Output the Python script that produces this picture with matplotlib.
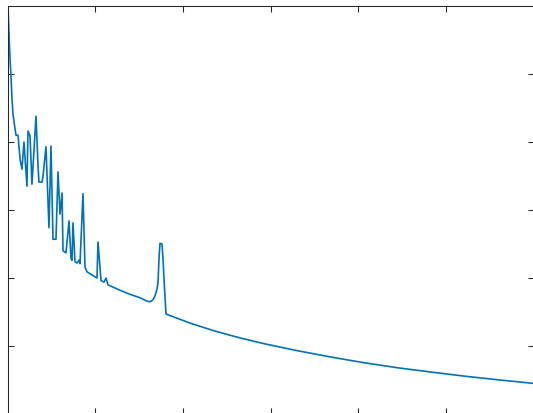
import matplotlib
matplotlib.use("Agg")
import matplotlib.pyplot as plt

x_vals = [0.006, 0.017, 0.029, 0.040, 0.051, 0.063, 0.086, 0.097, 0.120, 0.143,
          0.165, 0.188, 0.222, 0.234, 0.257, 0.279, 0.325, 0.348, 0.359, 0.394,
          0.405, 0.439, 0.473, 0.496, 0.519, 0.553, 0.576, 0.599, 0.622, 0.633,
          0.667, 0.702, 0.724, 0.736, 0.747, 0.770, 0.793, 0.816, 0.827, 0.861,
          0.884, 0.907, 1.021, 1.032, 1.067, 1.101, 1.124, 1.146, 1.283, 1.397,
          1.511, 1.591, 1.626, 1.660, 1.683, 1.706, 1.717, 1.728, 1.739, 1.762,
          1.774, 1.785, 1.808, 2.082, 2.367, 2.652, 2.937, 3.291, 3.679, 4.067,
          4.454, 4.842, 5.230, 5.618, 5.994]
y_vals = [6.00, 5.59, 5.22, 4.96, 4.63, 4.41, 4.19, 4.10, 4.10, 3.75,
          3.60, 4.00, 3.35, 4.16, 4.09, 3.38, 4.38, 3.65, 3.41, 3.41,
          3.50, 3.93, 2.74, 3.94, 2.57, 2.57, 3.56, 2.94, 3.25, 2.40,
          2.37, 2.84, 2.29, 2.26, 2.81, 2.24, 2.22, 2.26, 2.21, 3.24,
          2.16, 2.09, 2.00, 2.53, 1.96, 1.94, 2.00, 1.90, 1.82, 1.76,
          1.71, 1.66, 1.65, 1.68, 1.74, 1.84, 1.94, 2.28, 2.51, 2.50,
          2.28, 1.99, 1.47, 1.337, 1.219, 1.119, 1.031, 0.935, 0.840, 0.754,
          0.679, 0.615, 0.554, 0.500, 0.451]
x_ticks = [1, 2, 3, 4, 5]
y_ticks = [1, 2, 3, 4, 5]

fig = plt.figure(figsize=(5.33, 4.14), dpi=100)
ax = fig.add_axes([7.5/533, -1/414, 526/533, 408/414])
ax.plot(x_vals, y_vals, color="#0072BD", lw=1.2)
ax.set_xlim(0, 6)
ax.set_ylim(0, 6)
ax.set_xticks(x_ticks)
ax.set_yticks(y_ticks)
ax.tick_params(direction="in", length=4.3, width=0.75, color="#262626",
               top=True, right=True, labelbottom=False, labelleft=False)
for s in ax.spines.values():
    s.set_linewidth(0.75)
    s.set_color("#262626")
fig.savefig("out.png", dpi=100)
